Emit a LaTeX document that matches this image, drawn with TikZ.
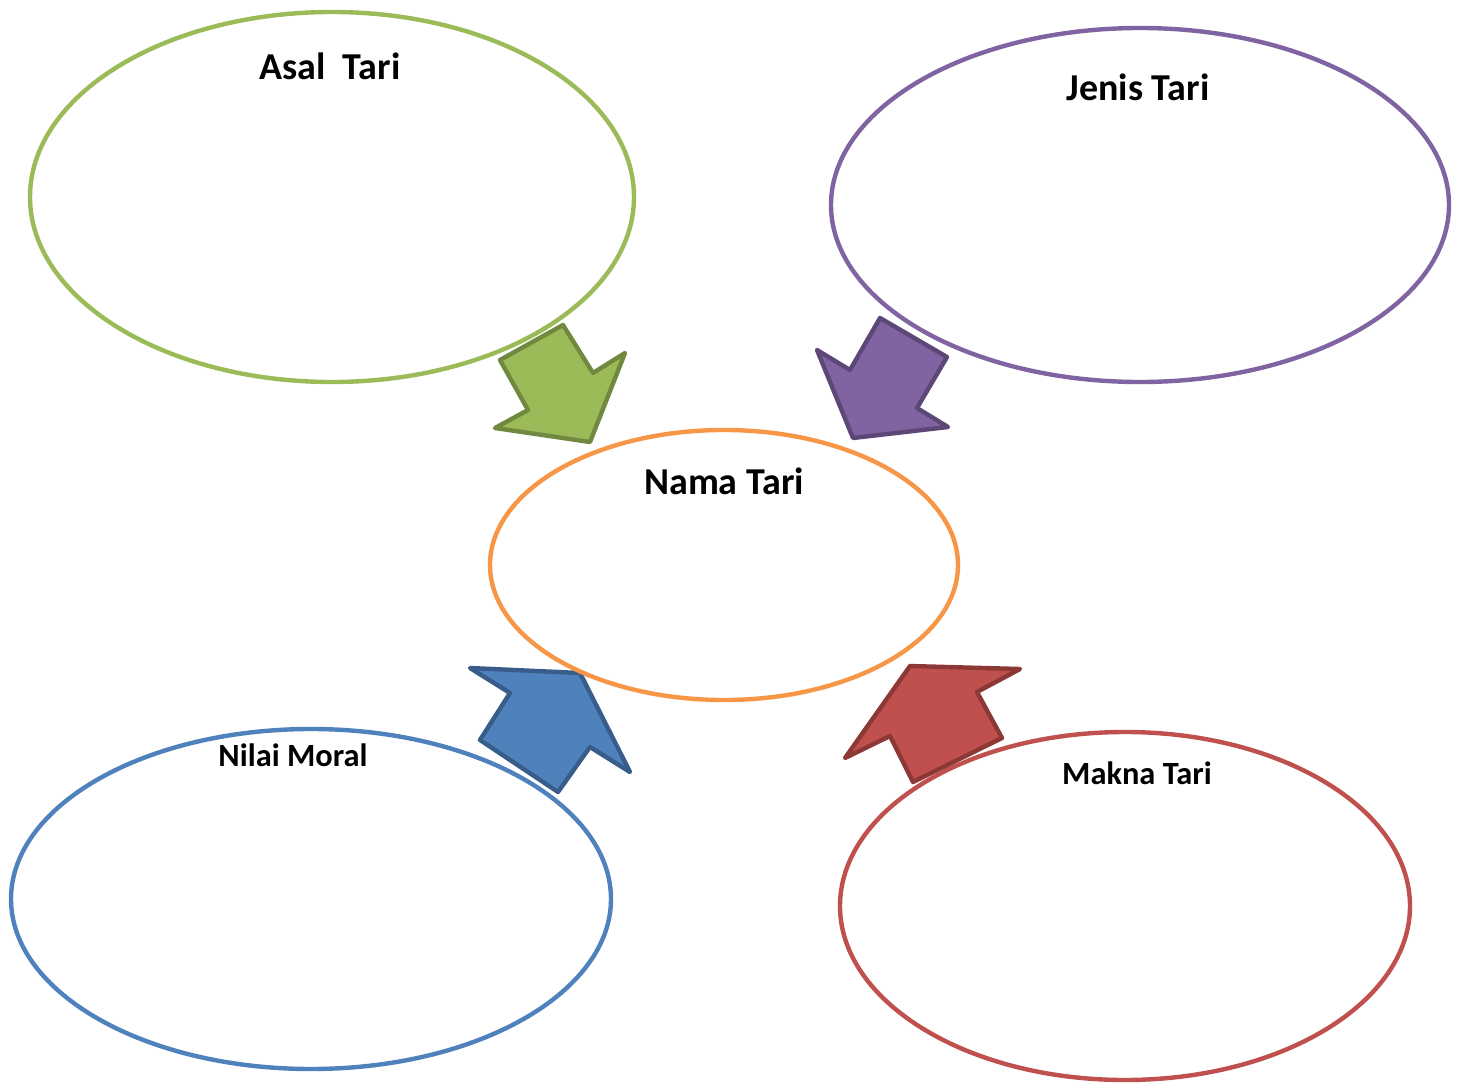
\documentclass[tikz,border=0pt]{standalone}
\usepackage{fontspec}
\setmainfont{Carlito}
\begin{document}
\begin{tikzpicture}[x=0.5pt,y=-0.5pt,
  ring/.style={line width=2.2pt},
  blockarrow/.style={line width=2.2pt, line join=round},
  lbl/.style={font=\bfseries\fontsize{19}{21}\selectfont, inner sep=0pt},
  lblsmall/.style={font=\bfseries\fontsize{16.2}{18}\selectfont, inner sep=0pt}]
\definecolor{cgreen}{HTML}{9BBB59}\definecolor{dgreen}{HTML}{71893F}
\definecolor{cpurple}{HTML}{8064A2}\definecolor{dpurple}{HTML}{5C4776}
\definecolor{corange}{HTML}{F79646}
\definecolor{cblue}{HTML}{4F81BD}\definecolor{dblue}{HTML}{385D8A}
\definecolor{cred}{HTML}{C0504D}\definecolor{dred}{HTML}{8C3836}
\useasboundingbox[fill=white] (0,0) rectangle (1463,1086);
% ellipses
\draw[ring, cgreen] (332,197) ellipse [x radius=302, y radius=185];
\draw[ring, cpurple] (1140,205) ellipse [x radius=309, y radius=177];
\draw[ring, cblue] (311,899) ellipse [x radius=300, y radius=170];
\draw[ring, cred] (1125,906) ellipse [x radius=285, y radius=174];
% arrows
\draw[blockarrow, fill=cgreen, draw=dgreen] (563,325) -- (593,373) -- (625,353) -- (590,442) -- (495,428) -- (528,410) -- (500,360) -- cycle;
\draw[blockarrow, fill=cpurple, draw=dpurple] (880,318) -- (947,357) -- (917,408) -- (948,427) -- (853,438) -- (817,350) -- (850,370) -- cycle;
\draw[blockarrow, fill=cblue, draw=dblue] (470,668) -- (580,673) -- (630,772) -- (590,747) -- (558,792) -- (480,740) -- (510,693) -- cycle;
\draw[blockarrow, fill=cred, draw=dred] (910,666) -- (1020,669) -- (977,692) -- (1002,738) -- (913,782) -- (890,736) -- (845,758) -- cycle;
\draw[ring, corange] (724,565) ellipse [x radius=234, y radius=135];
% labels
\node[lbl] (asal) at (330,66) {Asal\ \ Tari};
\node[lbl] (jenis) at (1138,87) {Jenis Tari};
\node[lbl] (nama) at (724,481) {Nama Tari};
\node[lblsmall] (nilai) at (293,755) {Nilai Moral};
\node[lblsmall] (makna) at (1137,773) {Makna Tari};
\end{tikzpicture}
\end{document}
